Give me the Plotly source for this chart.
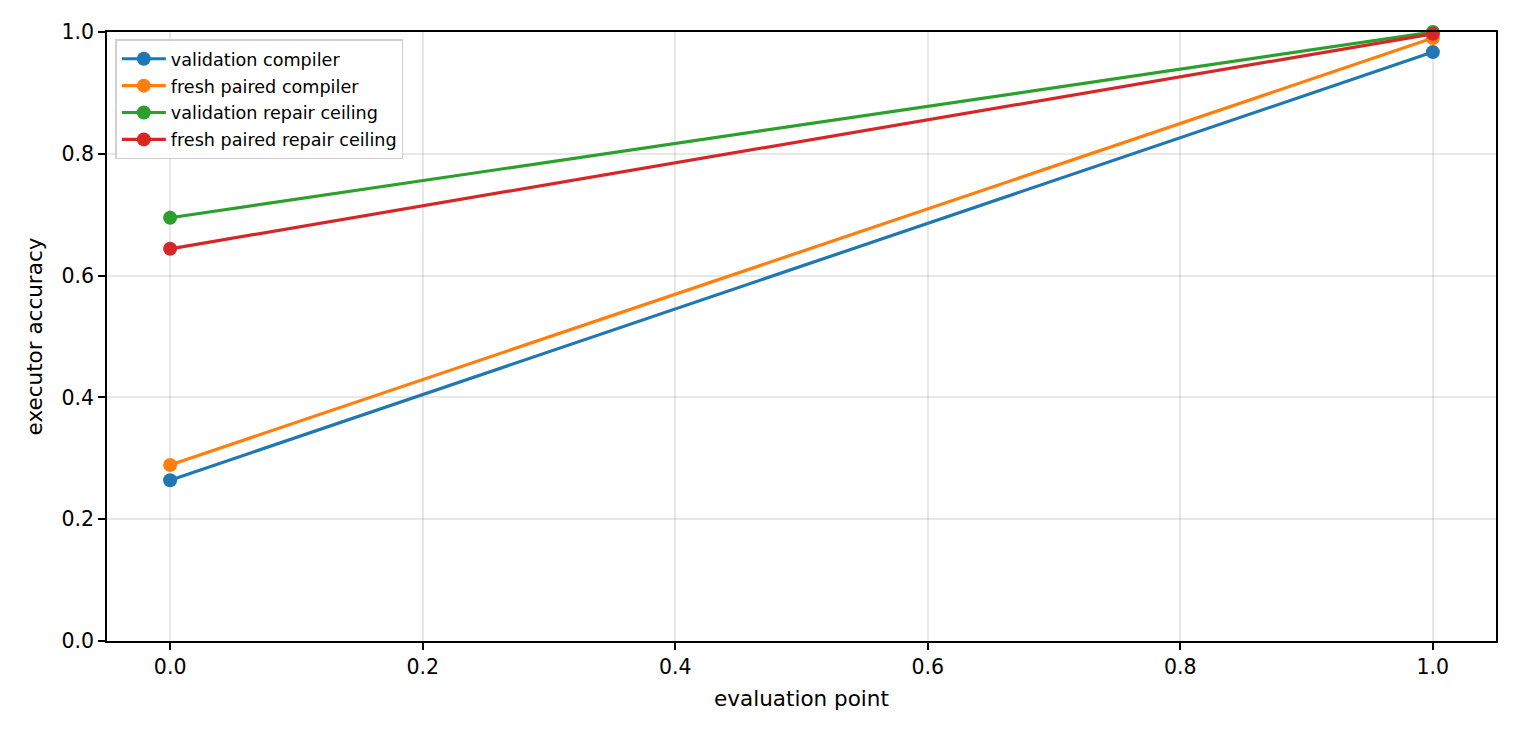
import plotly.graph_objects as go

x_points = [0, 1]
names = ["validation compiler", "fresh paired compiler",
         "validation repair ceiling", "fresh paired repair ceiling"]
colors = ["#1f77b4", "#ff7f0e", "#2ca02c", "#d62728"]
val_compiler = [0.264, 0.967]
fresh_compiler = [0.289, 0.990]
val_ceiling = [0.695, 1.0]
fresh_ceiling = [0.644, 0.997]
series = [val_compiler, fresh_compiler, val_ceiling, fresh_ceiling]

fig = go.Figure()
for i, (name, col, ys) in enumerate(zip(names, colors, series)):
    fig.add_trace(go.Scatter(x=x_points, y=ys, name=name, mode="lines+markers",
                             legendgroup=f"g{i}",
                             line=dict(color=col, width=3.2),
                             marker=dict(color=col, size=14),
                             cliponaxis=False))

axis_common = dict(showline=True, linecolor="black", linewidth=1.6, mirror=True,
                   ticks="outside", ticklen=7, tickwidth=1.6, tickcolor="black",
                   showgrid=True, gridcolor="rgba(0,0,0,0.09)", gridwidth=1.5,
                   zeroline=False, tickfont=dict(size=20.5, color="black"))

# page body has an 8px margin, so margins are shifted accordingly
fig.update_layout(
    width=1520, height=736,
    margin=dict(l=99, r=32, t=24, b=103),
    plot_bgcolor="white", paper_bgcolor="white",
    font=dict(family="DejaVu Sans", color="black"),
    showlegend=True,
    legend=dict(x=0.006, y=0.988, xanchor="left", yanchor="top",
                bgcolor="rgba(255,255,255,0.8)", bordercolor="#d0d0d0", borderwidth=1.5,
                font=dict(size=17.6), tracegroupgap=1, itemwidth=44),
    xaxis=dict(range=[-0.05, 1.05], tickvals=[0, 0.2, 0.4, 0.6, 0.8, 1.0],
               ticktext=["0.0", "0.2", "0.4", "0.6", "0.8", "1.0"],
               title=dict(text="evaluation point", font=dict(size=21.5), standoff=13),
               **axis_common),
    yaxis=dict(range=[0, 1.0], tickvals=[0, 0.2, 0.4, 0.6, 0.8, 1.0],
               ticktext=["0.0", "0.2", "0.4", "0.6", "0.8", "1.0"],
               title=dict(text="executor accuracy", font=dict(size=21.5), standoff=13),
               **axis_common),
)

fig.write_html("out.html")
